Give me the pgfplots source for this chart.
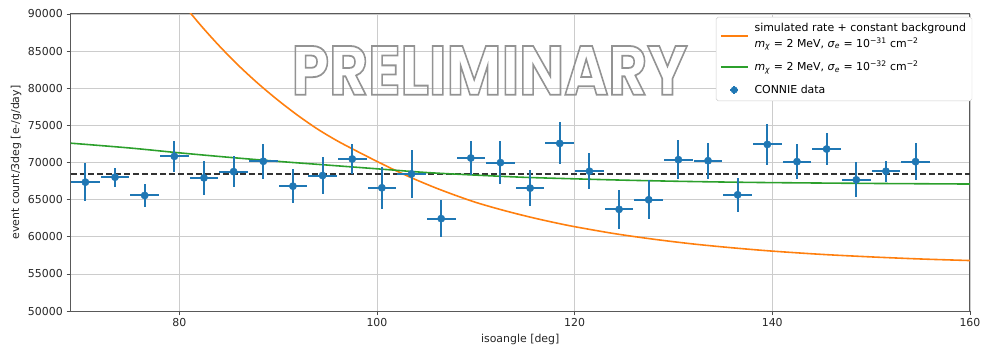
\documentclass[border=0pt]{standalone}
\usepackage{graphicx}
\usepackage{pgfplots}
\usepackage{pgfplotstable}
\pgfplotsset{compat=1.18}
\usepackage{fontspec}
\setmainfont{DejaVu Sans}
\newfontfamily\prelimfont{Poppins}
\definecolor{mplblue}{HTML}{1F77B4}
\definecolor{mplorange}{HTML}{FF7F0E}
\definecolor{mplgreen}{HTML}{2CA02C}
\pgfplotsset{shortline/.style={legend image code/.code={\draw[##1] (0cm,0cm)--(0.95cm,0cm);}}}
\pgfplotsset{datalegend/.style={legend image code/.code={
  \draw[mplblue, line width=1.8pt] (0.47cm,-0.14cm)--(0.47cm,0.14cm);
  \draw[mplblue, line width=1.8pt] (0.33cm,0cm)--(0.61cm,0cm);
  \fill[mplblue] (0.47cm,0cm) circle (3.3pt);}}}
\newcommand{\mchi}{\textit{m}\textsubscript{\textit{χ}}}
\newcommand{\sige}{\textit{σ}\textsubscript{\textit{e}}}

\pgfplotstableread{
x y ex ey
70.5 67350 1.45 2540
73.5 68020 1.45 1300
76.5 65560 1.45 1500
79.5 70830 1.45 2070
82.5 67930 1.45 2280
85.5 68770 1.45 2070
88.5 70160 1.45 2340
91.5 66810 1.45 2270
94.5 68240 1.45 2500
97.5 70470 1.45 2070
100.5 66590 1.45 2830
103.5 68460 1.45 3190
106.5 62440 1.45 2450
109.5 70600 1.45 2230
112.5 69980 1.45 2850
115.5 66550 1.45 2380
118.5 72570 1.45 2830
121.5 68820 1.45 2450
124.5 63690 1.45 2580
127.5 64980 1.45 2630
130.5 70380 1.45 2630
133.5 70240 1.45 2410
136.5 65650 1.45 2270
139.5 72430 1.45 2810
142.5 70110 1.45 2340
145.5 71810 1.45 2180
148.5 67660 1.45 2340
151.5 68820 1.45 1430
154.5 70110 1.45 2450
}\connie

\begin{document}
\fontsize{11}{13}\selectfont
\begin{tikzpicture}
\begin{axis}[
  scale only axis, width=905pt, height=299pt,
  xmin=69, xmax=160, ymin=50000, ymax=90000,
  xtick={80,100,120,140,160},
  ytick={50000,55000,60000,65000,70000,75000,80000,85000,90000},
  /pgf/number format/assume math mode=true,
  /pgf/number format/1000 sep={},
  scaled y ticks=false,
  grid=major, major grid style={gray!40, line width=0.7pt},
  tick align=outside, tick pos=left, major tick length=4pt,
  tick style={black!70, line width=0.8pt},
  axis line style={black!65, line width=1pt},
  ticklabel style={font=\fontsize{11}{13}\selectfont, text=black!85},
  xlabel={isoangle [deg]}, ylabel={event count/3deg [e-/g/day]},
  label style={font=\fontsize{11}{13}\selectfont, text=black!85},
  xlabel style={yshift=0pt},
  ylabel style={yshift=-1pt},
  legend style={at={(1.0025,0.99)}, anchor=north east, draw=black!20, rounded corners=2pt,
    font=\fontsize{11}{16}\selectfont, cells={anchor=west, align=left}, row sep=8.5pt,
    inner xsep=4pt, inner ysep=4pt,
    /tikz/every odd column/.append style={column sep=4pt}},
  legend cell align=left,
]
\addplot[black!80, dash pattern=on 6pt off 3pt, line width=1.9pt, forget plot] coordinates {(69,68400) (160,68400)};

\addplot[mplorange, line width=1.6pt, smooth, shortline] coordinates {
(78,95590) (80,92000) (82,88730) (84,85760) (86,83050) (88,80600) (90,78370) (92,76330)
(94,74490) (96,72900) (98,71500) (100,70150) (102,68850) (104,67650) (106,66550)
(108,65550) (110,64630) (112,63850) (114,63140) (116,62490) (118,61900) (120,61360)
(124,60430) (128,59670) (132,59030) (136,58510) (140,58070) (145,57630) (150,57290)
(155,57010) (160,56800)};
\addlegendentry{simulated rate + constant background\\\mchi{} = 2 MeV, \sige{} = 10\textsuperscript{−31} cm\textsuperscript{−2}}

\addplot[mplgreen, line width=1.6pt, smooth, shortline] coordinates {
(69,72600) (75,71950) (80,71300) (85,70700) (90,70150) (95,69650) (100,69150)
(105,68650) (110,68300) (115,68000) (120,67800) (125,67620) (130,67480)
(135,67370) (140,67290) (150,67180) (160,67100)};
\addlegendentry{\mchi{} = 2 MeV, \sige{} = 10\textsuperscript{−32} cm\textsuperscript{−2}}

\addplot[mplblue, only marks, mark=*, mark size=3.7pt, datalegend,
  error bars/.cd, x dir=both, x explicit, y dir=both, y explicit,
  error bar style={line width=2pt, mplblue}, error mark=none]
  table[x=x, y=y, x error=ex, y error=ey] {\connie};
\addlegendentry{CONNIE data}

\coordinate (prelim) at (axis cs:111.4,82400);
\end{axis}
\node[gray!85, font=\prelimfont\bfseries\fontsize{70}{70}\selectfont] at (prelim)
  {\scalebox{0.86}[1]{\special{pdf:literal direct 1 Tr 1.8 w}PRELIMINARY\special{pdf:literal direct 0 Tr}}};
\path ([xshift=-71pt,yshift=-35pt]current axis.south west) rectangle ([xshift=8pt,yshift=14pt]current axis.north east);
\end{tikzpicture}
\end{document}
